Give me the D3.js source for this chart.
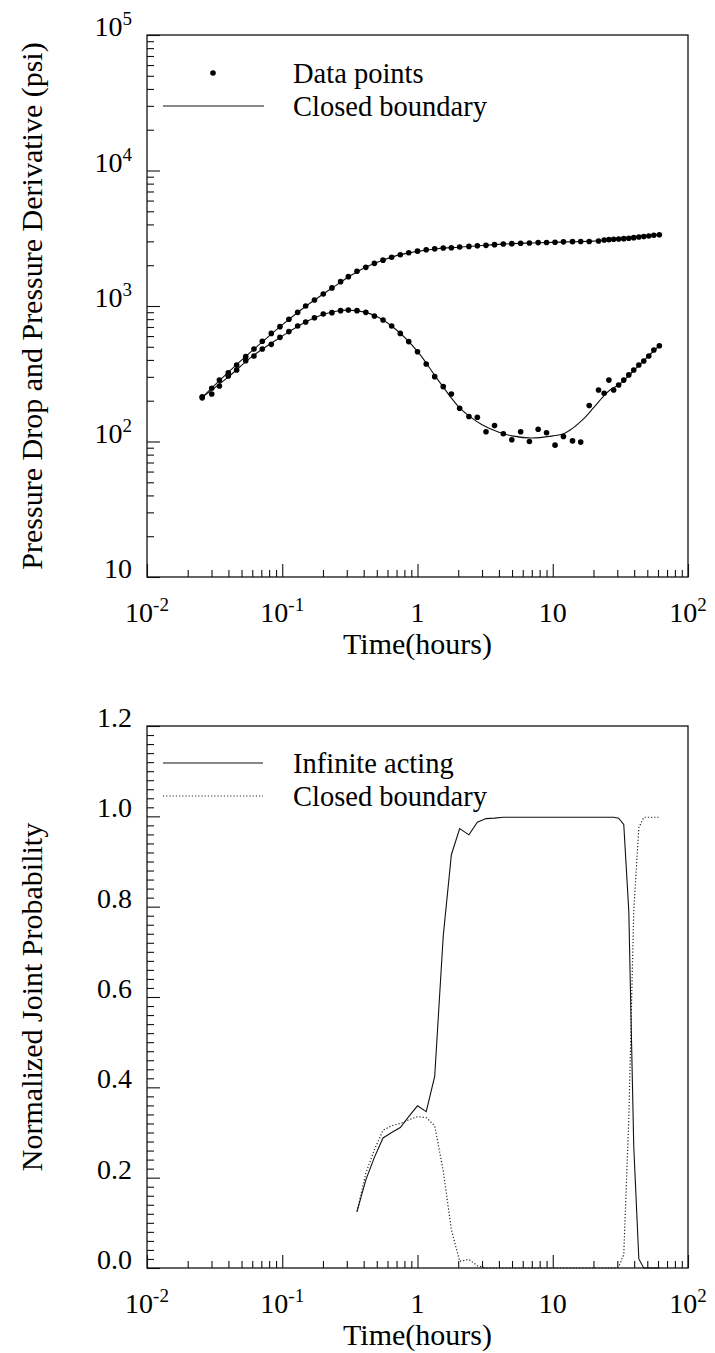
<!DOCTYPE html>
<html>
<head>
<meta charset="utf-8">
<script src="https://cdn.jsdelivr.net/npm/d3@7"></script>
<style>
  html, body { margin: 0; padding: 0; background: #fff; }
  svg { display: block; }
</style>
</head>
<body>
<svg id="chart" width="715" height="1353"></svg>
<script>
// ---- Measured well-test data (time in hours) ----
const times = [0.0256, 0.0301, 0.0343, 0.0399, 0.0460, 0.0537, 0.0618, 0.0712, 0.0830, 0.0962,
  0.112, 0.130, 0.149, 0.173, 0.201, 0.233, 0.270, 0.308, 0.357, 0.415,
  0.480, 0.556, 0.644, 0.746, 0.861, 1.00, 1.16, 1.34, 1.55, 1.78,
  2.05, 2.40, 2.77, 3.21, 3.71, 4.31, 4.98, 5.79, 6.72, 7.80,
  9.00, 10.4, 12.0, 14.0, 16.1, 18.6, 21.8, 24.0, 26.0, 28.2,
  30.7, 33.5, 36.5, 39.7, 43.3, 47.1, 51.3, 55.9, 61.4];

const pressureDrop = [214, 247, 284, 322, 367, 423, 482, 549, 628, 704,
  798, 898, 1000, 1107, 1227, 1360, 1512, 1646, 1805, 1928,
  2064, 2180, 2290, 2390, 2470, 2540, 2600, 2640, 2679, 2693,
  2723, 2754, 2786, 2804, 2837, 2870, 2886, 2903, 2920, 2936,
  2940, 2953, 2975, 2986, 2990, 2995, 3020, 3071, 3088, 3106,
  3124, 3142, 3160, 3196, 3233, 3251, 3289, 3327, 3357];

const pressureDerivative = [210, 224, 257, 305, 337, 395, 428, 482, 521, 587,
  647, 712, 762, 820, 873, 893, 924, 935, 924, 898,
  843, 788, 712, 628, 546, 460, 373, 301, 254, 224,
  176, 153, 151, 118, 131, 114, 103, 118, 100, 123,
  116, 94, 109, 101, 99, 184, 240, 227, 284, 240,
  261, 284, 310, 337, 367, 393, 428, 473, 509];

// ---- Closed-boundary model response ----
const modelTimes = [0.0256, 0.04, 0.06, 0.1, 0.15, 0.2, 0.25, 0.3, 0.4, 0.5,
  0.7, 1.0, 1.4, 2.0, 2.5, 3.0, 4.0, 5.0, 7.0, 10.0,
  12.0, 14.0, 16.8, 19.9, 23.6, 26.5, 31.4, 40, 50, 61.4];
const modelPressure = [212, 325, 468, 725, 1000, 1222, 1420, 1610, 1900, 2095,
  2355, 2530, 2645, 2715, 2760, 2795, 2850, 2885, 2920, 2950,
  2965, 2980, 2995, 3010, 3050, 3085, 3130, 3200, 3280, 3357];
const modelDerivative = [212, 300, 425, 600, 765, 865, 915, 932, 905, 835,
  665, 462, 290, 182, 150, 133, 117, 110, 106, 110,
  114, 125, 146, 176, 214, 240, 266, 337, 420, 509];

// ---- Normalized joint probability of each model ----
const probTimes = times.slice(18);
const infiniteActing = [0.125, 0.195, 0.245, 0.288, 0.300, 0.311, 0.335, 0.359, 0.346, 0.424,
  0.735, 0.915, 0.973, 0.959, 0.987, 0.995, 0.996, 0.998, 0.998, 0.998,
  0.998, 0.998, 0.998, 0.998, 0.998, 0.998, 0.998, 0.998, 0.998, 0.998,
  0.998, 0.998, 0.996, 0.982, 0.790, 0.270, 0.020, 0.000, 0.000, 0.000,
  0.000];
const closedBoundary = [0.125, 0.210, 0.262, 0.305, 0.315, 0.320, 0.328, 0.335, 0.333, 0.315,
  0.215, 0.085, 0.015, 0.019, 0.005, 0.000, 0.000, 0.000, 0.000, 0.000,
  0.000, 0.000, 0.000, 0.000, 0.000, 0.000, 0.000, 0.000, 0.000, 0.000,
  0.000, 0.000, 0.002, 0.030, 0.330, 0.790, 0.975, 0.998, 0.998, 0.998,
  0.998];

// ---- Tick labels ----
const xTickValues = [0.01, 0.1, 1, 10, 100];
const xTickLabels = [["10", "-2"], ["10", "-1"], ["1", ""], ["10", ""], ["10", "2"]];
const topYTickValues = [10, 100, 1000, 10000, 100000];
const topYTickLabels = [["10", ""], ["10", "2"], ["10", "3"], ["10", "4"], ["10", "5"]];
const botYTickValues = [0, 0.2, 0.4, 0.6, 0.8, 1.0, 1.2];
const botYTickLabels = ["0.0", "0.2", "0.4", "0.6", "0.8", "1.0", "1.2"];

// ---- Layout ----
const FONT = "'Liberation Serif', 'DejaVu Serif', 'Times New Roman', serif";
const svg = d3.select("#chart").attr("font-family", FONT).style("font-family", FONT);
const left = 147, right = 688;
const top1 = 35, bottom1 = 577;
const top2 = 726, bottom2 = 1268;
const tickFont = 28, supFont = 19, titleFont = 30, legendFont = 28.5;
const ink = "#111";

const x1 = d3.scaleLog().domain([0.01, 100]).range([left, right]);
const x2 = d3.scaleLog().domain([0.01, 100]).range([left, right]);
const yTop = d3.scaleLog().domain([10, 100000]).range([bottom1, top1]);
const yBot = d3.scaleLinear().domain([0, 1.2]).range([bottom2, top2]);

function txt() {
  return svg.append("text").attr("font-family", FONT).attr("fill", "#000");
}

// minor tick values for a log axis: 2..9 within each decade
function logMinors(lo, hi) {
  const out = [];
  for (let e = Math.log10(lo); e < Math.log10(hi); e++) {
    for (let m = 2; m <= 9; m++) out.push(m * Math.pow(10, e));
  }
  return out;
}

function styleAxis(g) {
  g.select(".domain").remove();
  g.selectAll(".tick line").attr("stroke", ink).attr("stroke-width", 1.1);
  g.selectAll(".tick text").remove();
}

function labelWithExp(sel, base, exp) {
  sel.append("tspan").text(base);
  if (exp) {
    sel.append("tspan").attr("font-size", supFont).attr("dy", -11).text(exp);
  }
}

function drawFrame(xs, ys, yTop_, yBottom_, yMajor, yMinor) {
  // bottom axis ticks (pointing inward)
  svg.append("g").attr("transform", `translate(0,${yBottom_})`)
    .call(d3.axisBottom(xs).tickValues(xTickValues).tickSize(-13).tickSizeOuter(0).tickFormat(""))
    .call(styleAxis);
  svg.append("g").attr("transform", `translate(0,${yBottom_})`)
    .call(d3.axisBottom(xs).tickValues(logMinors(0.01, 100)).tickSize(-7).tickSizeOuter(0).tickFormat(""))
    .call(styleAxis);
  // left axis ticks (pointing inward)
  svg.append("g").attr("transform", `translate(${left},0)`)
    .call(d3.axisLeft(ys).tickValues(yMajor).tickSize(-13).tickSizeOuter(0).tickFormat(""))
    .call(styleAxis);
  svg.append("g").attr("transform", `translate(${left},0)`)
    .call(d3.axisLeft(ys).tickValues(yMinor).tickSize(-7).tickSizeOuter(0).tickFormat(""))
    .call(styleAxis);
  // frame
  svg.append("rect").attr("x", left).attr("y", yTop_)
    .attr("width", right - left).attr("height", yBottom_ - yTop_)
    .attr("fill", "none").attr("stroke", ink).attr("stroke-width", 1.3);
  // x tick labels
  xTickValues.forEach((v, i) => {
    const t = txt().attr("x", xs(v)).attr("y", yBottom_ + 45)
      .attr("text-anchor", "middle").attr("font-size", tickFont);
    labelWithExp(t, xTickLabels[i][0], xTickLabels[i][1]);
  });
  txt().attr("x", (left + right) / 2).attr("y", yBottom_ + 77)
    .attr("text-anchor", "middle").attr("font-size", titleFont).text("Time(hours)");
}

// ================= Top panel =================
drawFrame(x1, yTop, top1, bottom1, topYTickValues, logMinors(10, 100000));
topYTickValues.forEach((v, i) => {
  const t = txt().attr("x", 132).attr("y", yTop(v) + 1)
    .attr("text-anchor", "end").attr("font-size", tickFont);
  labelWithExp(t, topYTickLabels[i][0], topYTickLabels[i][1]);
});
txt()
  .attr("transform", `translate(42,${(top1 + bottom1) / 2}) rotate(-90)`)
  .attr("text-anchor", "middle").attr("font-size", titleFont)
  .text("Pressure Drop and Pressure Derivative (psi)");

const lineTop = d3.line()
  .x(d => x1(d[0])).y(d => yTop(d[1]))
  .curve(d3.curveCatmullRom.alpha(0.5));

const modelP = modelTimes.map((t, i) => [t, modelPressure[i]]);
const modelD = modelTimes.map((t, i) => [t, modelDerivative[i]]);
[modelP, modelD].forEach(series => {
  svg.append("path").datum(series).attr("d", lineTop)
    .attr("fill", "none").attr("stroke", ink).attr("stroke-width", 1.1);
});

const ptsP = times.map((t, i) => [t, pressureDrop[i]]);
const ptsD = times.map((t, i) => [t, pressureDerivative[i]]);
svg.append("g").selectAll("circle").data(ptsP.concat(ptsD)).join("circle")
  .attr("cx", d => x1(d[0])).attr("cy", d => yTop(d[1])).attr("r", 2.8).attr("fill", "#000");

// legend (top)
svg.append("circle").attr("cx", 213).attr("cy", 73).attr("r", 2.8).attr("fill", "#000");
svg.append("line").attr("x1", 163).attr("x2", 264).attr("y1", 106).attr("y2", 106)
  .attr("stroke", ink).attr("stroke-width", 1.1);
txt().attr("x", 293).attr("y", 83).attr("font-size", legendFont).text("Data points");
txt().attr("x", 293).attr("y", 116).attr("font-size", legendFont).text("Closed boundary");

// ================= Bottom panel =================
const botMinor = d3.range(0, 61).map(k => k * 0.02).filter((v, k) => k % 10 !== 0);
drawFrame(x2, yBot, top2, bottom2, botYTickValues, botMinor);
botYTickValues.forEach((v, i) => {
  txt().attr("x", 132).attr("y", yBot(v) + 1)
    .attr("text-anchor", "end").attr("font-size", tickFont).text(botYTickLabels[i]);
});
txt()
  .attr("transform", `translate(42,${(top2 + bottom2) / 2}) rotate(-90)`)
  .attr("text-anchor", "middle").attr("font-size", titleFont)
  .text("Normalized Joint Probability");

const lineBot = d3.line().x(d => x2(d[0])).y(d => yBot(d[1]));
svg.append("path").datum(probTimes.map((t, i) => [t, closedBoundary[i]]))
  .attr("d", lineBot).attr("fill", "none").attr("stroke", "#222")
  .attr("stroke-width", 1.2).attr("stroke-dasharray", "1.2,2");
svg.append("path").datum(probTimes.map((t, i) => [t, infiniteActing[i]]))
  .attr("d", lineBot).attr("fill", "none").attr("stroke", ink).attr("stroke-width", 1.1);

// legend (bottom)
svg.append("line").attr("x1", 163).attr("x2", 263).attr("y1", 763).attr("y2", 763)
  .attr("stroke", ink).attr("stroke-width", 1.1);
svg.append("line").attr("x1", 163).attr("x2", 263).attr("y1", 796).attr("y2", 796)
  .attr("stroke", "#222").attr("stroke-width", 1.2).attr("stroke-dasharray", "1.2,2");
txt().attr("x", 293).attr("y", 773).attr("font-size", legendFont).text("Infinite acting");
txt().attr("x", 293).attr("y", 806).attr("font-size", legendFont).text("Closed boundary");
</script>
</body>
</html>
